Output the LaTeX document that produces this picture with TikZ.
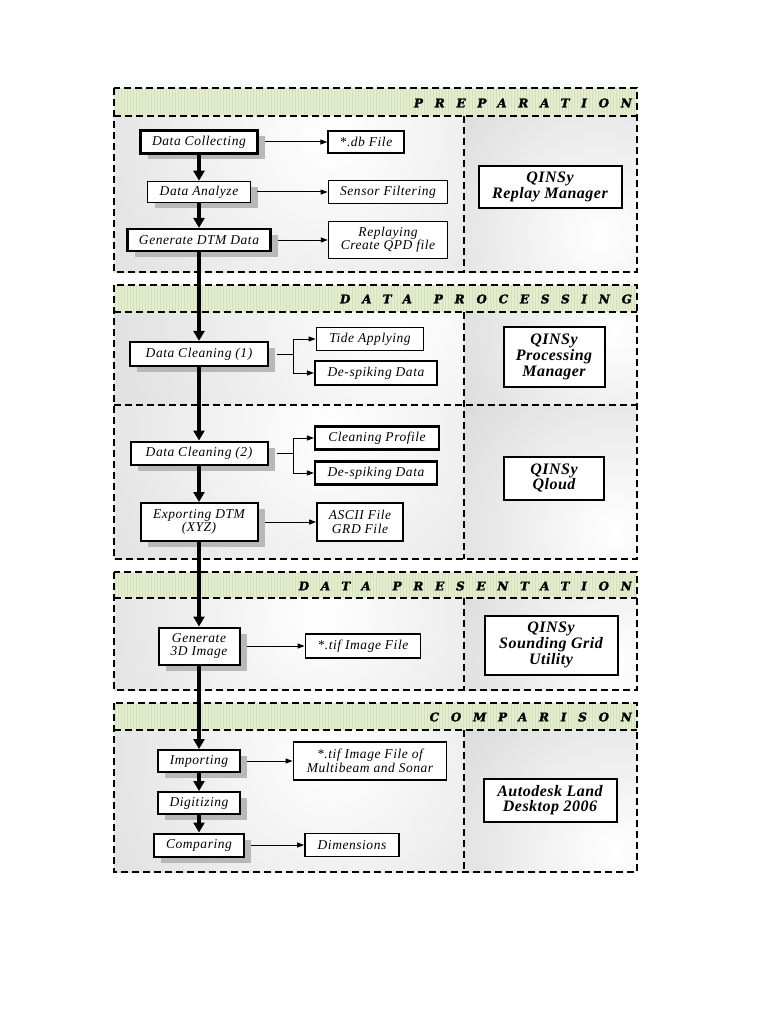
\documentclass[tikz,border=0pt]{standalone}
\usepackage{fontspec}
\setmainfont{Liberation Serif}
\newfontfamily\boxfont{Liberation Serif}[LetterSpace=4]
\newfontfamily\toolfont{Liberation Serif}[LetterSpace=3]
\newfontfamily\hdrfont{DejaVu Serif}[LetterSpace=98,FakeBold=2]
\usetikzlibrary{arrows.meta,shadows}
\definecolor{bandgreen}{RGB}{228,237,208}
\definecolor{bandline}{RGB}{212,226,188}
\definecolor{panelgray}{RGB}{194,194,194}
\newcommand\panel[7]{%
  \fill[panelgray] (#1,#2) rectangle (#3,#4);
  \begin{scope}
    \clip (#1,#2) rectangle (#3,#4);
    \shade[inner color=white, outer color=panelgray] (#5,#6) circle[radius=#7pt];
  \end{scope}}
\tikzset{
  dashbox/.style={line width=1.6pt, dash pattern=on 7pt off 4pt},
  proc/.style={draw, line width=2.2pt, fill=white, inner sep=0pt, align=center,
    font=\boxfont\itshape\fontsize{13.5}{13.5}\selectfont,
    drop shadow={shadow xshift=7pt, shadow yshift=-6pt, fill=black!28, opacity=1}},
  outbox/.style={draw, line width=1.8pt, fill=white, inner sep=0pt, align=center,
    font=\boxfont\itshape\fontsize{13.5}{13.5}\selectfont},
  toolbox/.style={draw, line width=2pt, fill=white, inner sep=0pt, align=center,
    font=\toolfont\bfseries\itshape\fontsize{16}{15.7}\selectfont},
  hdr/.style={inner sep=0pt, font=\hdrfont\bfseries\itshape\fontsize{12}{12}\selectfont},
  mainarrow/.style={line width=3.5pt, -{Triangle[length=10pt,width=11pt]}},
  sidearrow/.style={line width=1pt, -{Triangle[length=7pt,width=5pt]}},
}
\begin{document}
\begin{tikzpicture}[x=1pt,y=-1pt]
\useasboundingbox (0,0) rectangle (768,1024);
\fill[white] (0,0) rectangle (768,1024);
% ---------- panels ----------
\panel{114}{116}{464}{272}{330}{140}{520}
\panel{464}{116}{637}{272}{600}{235}{330}
\panel{114}{312}{464}{405}{390}{318}{560}
\panel{464}{312}{637}{405}{615}{330}{300}
\panel{114}{405}{464}{559}{330}{430}{520}
\panel{464}{405}{637}{559}{615}{530}{330}
\panel{114}{598}{464}{690}{320}{615}{480}
\panel{464}{598}{637}{690}{615}{660}{300}
\panel{114}{730}{464}{872}{330}{755}{500}
\panel{464}{730}{637}{872}{615}{850}{330}
% ---------- header bands ----------
\fill[bandgreen] (114,88) rectangle (637,116);
\fill[bandgreen] (114,285) rectangle (637,312);
\fill[bandgreen] (114,572) rectangle (637,598);
\fill[bandgreen] (114,703) rectangle (637,730);
\foreach \xx in {115.5,118.5,...,636} {
  \draw[bandline, line width=1pt] (\xx,88) -- (\xx,116);
  \draw[bandline, line width=1pt] (\xx,285) -- (\xx,312);
  \draw[bandline, line width=1pt] (\xx,572) -- (\xx,598);
  \draw[bandline, line width=1pt] (\xx,703) -- (\xx,730);
}
\node[hdr, anchor=east] (h1) at (632,103) {PREPARATION};
\node[hdr, anchor=east] (h2) at (632,299) {DATA\hspace{6pt} PROCESSING};
\node[hdr, anchor=east] (h3) at (632,586) {DATA\hspace{6pt} PRESENTATION};
\node[hdr, anchor=east] (h4) at (632,717) {COMPARISON};
% ---------- dashed frames ----------
\draw[dashbox] (114,88) rectangle (637,272);
\draw[dashbox] (114,116) -- (637,116);
\draw[dashbox] (464,116) -- (464,272);
\draw[dashbox] (114,285) rectangle (637,559);
\draw[dashbox] (114,312) -- (637,312);
\draw[dashbox] (114,405) -- (637,405);
\draw[dashbox] (464,312) -- (464,559);
\draw[dashbox] (114,572) rectangle (637,690);
\draw[dashbox] (114,598) -- (637,598);
\draw[dashbox] (464,598) -- (464,690);
\draw[dashbox] (114,703) rectangle (637,872);
\draw[dashbox] (114,730) -- (637,730);
\draw[dashbox] (464,730) -- (464,872);
% ---------- process column ----------
\node[proc, minimum width=117pt, minimum height=23pt] (dc) at (199,142) {Data Collecting};
\node[proc, line width=1.6pt, minimum width=103pt, minimum height=21pt] (da) at (199,192) {Data Analyze};
\node[proc, minimum width=143pt, minimum height=22pt] (gdtm) at (199,240) {Generate DTM Data};
\node[proc, minimum width=138pt, minimum height=24pt] (dc1) at (199,354) {Data Cleaning (1)};
\node[proc, line width=2pt, minimum width=137pt, minimum height=23pt] (dc2) at (199,453) {Data Cleaning (2)};
\node[proc, line width=2pt, minimum width=117pt, minimum height=38pt] (exp) at (199,522) {Exporting DTM\\(XYZ)};
\node[proc, line width=2pt, minimum width=81pt, minimum height=37pt] (g3d) at (199,646) {Generate\\3D Image};
\node[proc, line width=2pt, minimum width=82pt, minimum height=22pt] (imp) at (199,761) {Importing};
\node[proc, line width=2pt, minimum width=82pt, minimum height=22pt] (dig) at (199,803) {Digitizing};
\node[proc, line width=2pt, minimum width=90pt, minimum height=23pt] (cmp) at (199,845) {Comparing};
% ---------- outputs ----------
\node[outbox, line width=1.5pt, minimum width=76pt, minimum height=22pt] (db) at (366,142) {*.db File};
\node[outbox, minimum width=119pt, minimum height=23pt] (sf) at (388,192) {Sensor Filtering};
\node[outbox, line width=1.5pt, minimum width=119pt, minimum height=37pt] (rep) at (388,240) {Replaying\\Create QPD file};
\node[outbox, minimum width=107pt, minimum height=23pt] (tide) at (370,339) {Tide Applying};
\node[outbox, line width=2.2pt, minimum width=122pt, minimum height=24pt] (ds1) at (376,373) {De-spiking Data};
\node[outbox, line width=2.2pt, minimum width=124pt, minimum height=23pt] (cp) at (377,438) {Cleaning Profile};
\node[outbox, line width=2.2pt, minimum width=122pt, minimum height=23pt] (ds2) at (376,473) {De-spiking Data};
\node[outbox, minimum width=86pt, minimum height=38pt] (ascii) at (360,522) {ASCII File\\GRD File};
\node[outbox, minimum width=115pt, minimum height=24pt] (tif) at (363,646) {*.tif Image File};
\node[outbox, minimum width=153pt, minimum height=38pt] (tifof) at (370,761) {*.tif Image File of\\Multibeam and Sonar};
\node[outbox, minimum width=94pt, minimum height=23pt] (dim) at (352,845) {Dimensions};
% ---------- tools ----------
\node[toolbox, minimum width=143pt, minimum height=42pt] (qrm) at (550,187) {QINSy\\Replay Manager};
\node[toolbox, minimum width=101pt, minimum height=60pt] (qpm) at (554,357) {QINSy\\Processing\\Manager};
\node[toolbox, minimum width=100pt, minimum height=43pt] (qq) at (554,478) {QINSy\\Qloud};
\node[toolbox, minimum width=133pt, minimum height=59pt] (qsgu) at (551,645) {QINSy\\Sounding Grid\\Utility};
\node[toolbox, minimum width=133pt, minimum height=43pt] (ald) at (550,800) {Autodesk Land\\Desktop 2006};
% ---------- main flow ----------
\draw[mainarrow] (dc.south) -- (da.north);
\draw[mainarrow] (da.south) -- (gdtm.north);
\draw[mainarrow] (gdtm.south) -- (dc1.north);
\draw[mainarrow] (dc1.south) -- (dc2.north);
\draw[mainarrow] (dc2.south) -- (exp.north);
\draw[mainarrow] (exp.south) -- (g3d.north);
\draw[mainarrow] (g3d.south) -- (imp.north);
\draw[mainarrow] (imp.south) -- (dig.north);
\draw[mainarrow] (dig.south) -- (cmp.north);
% ---------- side arrows ----------
\draw[sidearrow] ([xshift=6pt]dc.east) -- (db.west);
\draw[sidearrow] ([xshift=6pt]da.east) -- (sf.west);
\draw[sidearrow] ([xshift=6pt]gdtm.east) -- (rep.west);
\coordinate (b1) at (293,354);
\coordinate (b2) at (293,453);
\draw[line width=1pt] ([xshift=8pt]dc1.east) -- (b1);
\draw[sidearrow] (b1) |- (tide.west);
\draw[sidearrow] (b1) |- (ds1.west);
\draw[line width=1pt] ([xshift=8pt]dc2.east) -- (b2);
\draw[sidearrow] (b2) |- (cp.west);
\draw[sidearrow] (b2) |- (ds2.west);
\draw[sidearrow] ([xshift=6pt]exp.east) -- (ascii.west);
\draw[sidearrow] ([xshift=6pt]g3d.east) -- (tif.west);
\draw[sidearrow] ([xshift=6pt]imp.east) -- (tifof.west);
\draw[sidearrow] ([xshift=6pt]cmp.east) -- (dim.west);
\end{tikzpicture}
\end{document}
